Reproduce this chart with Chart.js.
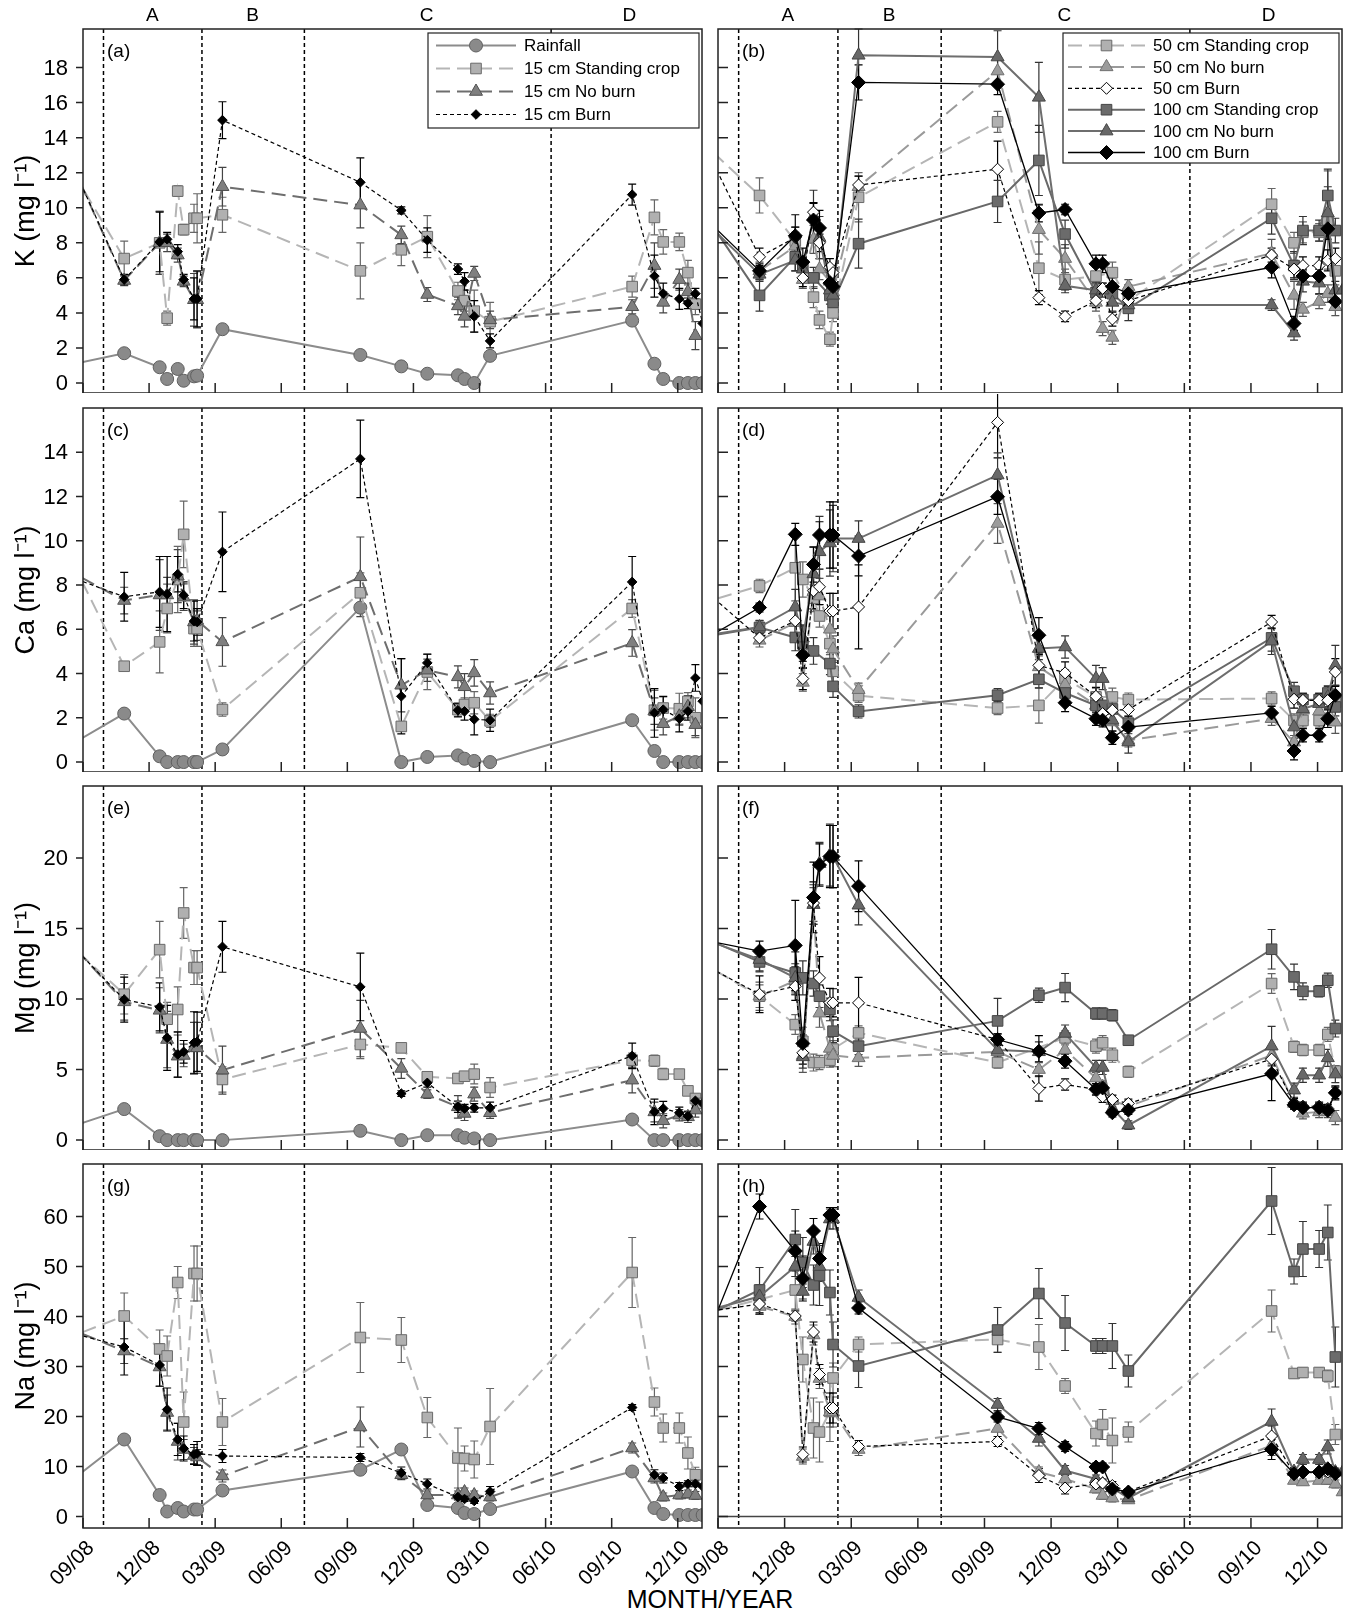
<!DOCTYPE html>
<html>
<head>
<meta charset="utf-8">
<script src="https://cdn.jsdelivr.net/npm/chart.js@4.4.1/dist/chart.umd.min.js"></script>
<style>
  body { margin: 0; background: #fff; width: 1346px; height: 1614px; position: relative; overflow: hidden; }
  .p { position: absolute; }
  #xtitle { position: absolute; left: 0; width: 1420px; top: 1584px; text-align: center; font-size: 25px; line-height: 30px;
            font-family: 'Liberation Sans', Arial, sans-serif; }
</style>
</head>
<body>
<div id="xtitle">MONTH/YEAR</div>
<script>
// sampling dates, months since 09/08 (first value of each series is the sample before 09/08)
const preMonth = -0.9;
const months = [1.87, 3.48, 3.82, 4.3, 4.57, 5.04, 5.18, 6.33, 12.59, 14.45, 15.63, 17.02, 17.32, 17.76, 18.48, 24.93, 25.94, 26.34, 27.07, 27.46, 27.8, 28.13];
const xTickVals = [0, 3, 6, 9, 12, 15, 18, 21, 24, 27];
const xTickLabels = ['09/08', '12/08', '03/09', '06/09', '09/09', '12/09', '03/10', '06/10', '09/10', '12/10'];
const zoneBounds = [0.93, 5.4, 10.05, 21.25];
const zoneNames = ['A', 'B', 'C', 'D'];
const zoneCenters = [3.15, 7.7, 15.6, 24.8];

const kTicks = [0, 2, 4, 6, 8, 10, 12, 14, 16, 18];
const caTicks = [0, 2, 4, 6, 8, 10, 12, 14];
const mgTicks = [0, 5, 10, 15, 20];
const naTicks = [0, 10, 20, 30, 40, 50, 60];

// (a) K, 15 cm
const aRain = [0.96, 1.7, 0.9, 0.23, 0.8, 0.13, 0.38, 0.42, 3.07, 1.6, 0.95, 0.53, 0.44, 0.23, 0.0, 1.55, 3.56, 1.1, 0.23, 0, 0, 0, 0];
const aSC = [13.0, 7.1, 8.0, 3.7, 10.95, 8.75, 9.4, 9.4, 9.6, 6.4, 7.6, 8.35, 5.25, 4.7, 4.1, 3.5, 5.5, 9.45, 8.05, 8.05, 6.3, 4.5, null];
const aSCe = [null, 1.0, 1.8, 0.4, 0.3, 0.3, 0.8, 1.4, 1.0, 1.6, 0.9, 1.2, 0.5, 0.6, 1.2, 1.1, 0.6, 1.0, 0.7, 0.5, 0.7, 0.6, null];
const aNB = [13.6, 5.85, 8.0, 8.0, 7.3, 5.8, 4.75, 4.75, 11.2, 10.15, 8.45, 5.05, 4.4, 3.8, 6.25, 3.6, 4.35, 6.7, 4.6, 5.9, 5.2, 2.7, null];
const aNBe = [null, 0.3, 1.8, 0.5, 0.4, 0.3, 1.5, 1.6, 1.1, 1.3, 0.5, 0.4, 0.5, 0.6, 0.4, 0.5, 0.4, 1.3, 0.6, 0.6, 0.5, 0.8, null];
const aB = [13.6, 5.9, 8.05, 8.2, 7.5, 5.9, 4.8, 4.8, 15.0, 11.45, 9.85, 8.15, 6.5, 5.8, 3.8, 2.4, 10.75, 6.1, 5.1, 4.8, 4.55, 5.1, 3.4];
const aBe = [null, 0.3, 1.7, 0.4, 0.4, 0.3, 1.2, 1.6, 1.05, 1.4, 0.2, 0.7, 0.3, 0.5, 0.9, 0.4, 0.6, 1.2, 0.6, 0.6, 0.3, 0.3, 0.3];

// (b) K, 50 and 100 cm
const bSC50 = [13.96, 10.7, 8.1, null, 4.9, 3.6, 2.5, 4.0, 10.6, 14.9, 6.55, 5.9, 6.1, null, 6.3, 4.7, 10.2, 8.0, 8.6, 8.6, 9.3, 6.4, null];
const bSC50e = [null, 1.0, 0.8, null, 0.6, 0.5, 0.4, 0.5, 1.4, 0.6, 1.5, 0.6, 0.5, null, 0.6, 0.6, 0.9, 0.6, 0.6, 0.5, 2.8, 0.8, null];
const bNB50 = [null, 6.4, 7.8, 5.9, 8.2, 6.5, 5.8, 5.2, 11.2, 17.8, 8.75, 7.1, 4.6, 3.1, 2.6, 5.5, 7.4, 5.0, 4.2, 4.65, 5.1, 4.35, null];
const bNB50e = [null, 0.5, 0.8, 0.5, 0.8, 0.6, 0.5, 0.5, 0.6, 0.8, 1.4, 0.8, 0.5, 0.4, 0.4, 0.4, 0.8, 0.8, 0.4, 0.4, 0.5, 0.5, null];
const bB50 = [14.3, 7.2, 8.3, 6.0, 9.75, 8.0, 6.6, 6.3, 11.3, 12.2, 4.87, 3.8, 4.7, 5.4, 3.65, 4.7, 7.3, 6.5, 6.7, 6.7, 7.0, 7.1, null];
const bB50e = [null, 0.5, 0.6, 0.5, 0.5, 0.5, 0.5, 0.4, 0.5, 1.6, 0.4, 0.3, 0.4, 0.3, 0.4, 0.4, 0.4, 0.5, 0.5, 0.5, 0.6, 0.6, null];
const bSC100 = [10.2, 5.0, 7.2, 6.6, 6.0, null, 5.0, 4.6, 7.95, 10.36, 12.7, 8.5, 5.15, null, 5.1, 4.26, 9.4, 6.7, 8.7, 8.7, 10.7, 8.7, null];
const bSC100e = [null, 0.9, 0.8, 0.6, 0.6, null, 0.5, 0.5, 1.4, 1.2, 2.0, 0.8, 0.6, null, 0.6, 0.7, 0.9, 0.8, 0.8, 0.6, 1.5, 0.7, null];
const bNB100 = [9.6, 6.2, 7.0, 6.5, 9.5, 8.3, 5.3, 5.0, 18.7, 18.6, 16.3, 5.55, 5.3, 5.3, 4.6, 4.45, 4.45, 2.85, 5.8, 5.7, 9.7, 5.3, 5.3];
const bNB100e = [null, 0.4, 0.6, 0.5, 1.5, 1.2, 0.5, 0.5, 1.5, 1.5, 2.0, 0.4, 0.4, 0.4, 0.5, 0.4, 0.3, 0.4, 0.6, 0.6, 1.5, 0.5, null];
const bB100 = [9.8, 6.4, 8.4, 6.9, 9.3, 8.85, 5.7, 5.5, 17.15, 17.05, 9.7, 9.9, 6.8, 6.8, 5.5, 5.1, 6.6, 3.4, 6.1, 6.1, 8.8, 4.65, null];
const bB100e = [null, 0.4, 1.2, 0.8, 1.0, 1.0, 0.4, 0.4, 1.0, 0.6, 0.5, 0.3, 0.5, 0.5, 0.5, 0.5, 0.6, 0.4, 0.4, 0.4, 0.6, 0.5, null];

// (c) Ca, 15 cm
const cRain = [0.58, 2.19, 0.26, 0, 0, 0, 0, 0, 0.57, 6.98, 0, 0.23, 0.3, 0.15, 0.05, 0, 1.89, 0.5, 0, 0, 0, 0, 0];
const cSC = [9.87, 4.33, 5.43, 6.94, 8.25, 10.29, 6.03, 6.03, 2.37, 7.65, 1.61, 4.07, 2.37, 2.6, 2.68, 1.86, 6.94, 2.34, 2.44, 2.41, 2.74, 2.0, null];
const cSCe = [null, 0.15, 1.4, 1.1, 1.5, 1.5, 0.8, 0.8, 0.3, 0.9, 0.2, 0.8, 0.3, 0.3, 0.5, 0.3, 0.4, 0.9, 0.5, 0.7, 0.4, 0.9, null];
const cNB = [8.78, 7.3, 7.55, 7.55, 8.4, 7.45, 6.33, 6.4, 5.43, 8.37, 3.47, 4.15, 3.85, 3.4, 4.03, 3.12, 5.38, 2.3, 1.73, 2.07, 2.5, 1.69, null];
const cNBe = [null, 0.6, 1.6, 0.8, 1.2, 0.6, 1.0, 0.9, 1.1, 1.8, 1.2, 0.5, 0.5, 0.6, 0.6, 0.5, 0.6, 0.6, 0.5, 0.4, 0.5, 0.5, null];
const cB = [8.48, 7.47, 7.69, 7.59, 8.49, 7.54, 6.37, 6.33, 9.5, 13.7, 2.97, 4.48, 2.34, 2.29, 1.93, 1.89, 8.14, 2.22, 2.37, 1.96, 2.29, 3.8, 2.75];
const cBe = [null, 1.1, 1.6, 1.7, 0.8, 0.6, 0.9, 0.6, 1.8, 1.75, 1.7, 0.4, 0.3, 0.4, 0.7, 0.5, 1.15, 1.1, 0.6, 0.6, 0.4, 0.6, 0.4];

// (d) Ca, 50 and 100 cm
const dSC50 = [7.13, 7.96, 8.78, 8.25, 7.4, 6.6, 5.35, 4.1, 3.0, 2.44, 2.56, 3.77, 2.94, null, 2.94, 2.82, 2.87, 1.88, 1.88, 1.88, null, 2.7, null];
const dSC50e = [null, 0.3, 1.5, 0.8, 0.6, 0.5, 0.5, 0.5, 0.3, 0.3, 0.8, 0.4, 0.4, null, 0.4, 0.3, 0.3, 0.3, 0.3, 0.3, null, 0.4, null];
const dNB50 = [null, 5.5, 6.3, 3.6, 7.7, 7.5, 6.0, 5.1, 3.27, 10.78, 4.3, 3.5, 2.56, null, 1.81, 0.98, 1.96, 0.9, 2.34, 2.3, 2.8, 1.8, null];
const dNB50e = [null, 0.3, 0.6, 0.4, 0.8, 0.8, 0.6, 0.6, 0.3, 0.9, 0.5, 0.4, 0.4, null, 0.4, 0.3, 0.3, 0.3, 0.4, 0.4, 0.4, 0.5, null];
const dB50 = [8.02, 5.61, 6.38, 3.77, 7.74, 7.92, 6.82, 6.82, 7.01, 15.35, 4.37, 4.03, 2.97, 2.19, 2.34, 2.37, 6.33, 2.84, 2.79, 2.79, 2.79, 4.07, null];
const dB50e = [null, 0.2, 0.6, 0.5, 0.8, 0.8, 0.8, 0.8, 1.9, 1.6, 0.5, 0.5, 0.4, 0.4, 0.6, 0.6, 0.3, 0.4, 0.3, 0.3, 0.3, 0.6, null];
const dSC100 = [5.61, 6.08, 5.63, 5.35, 5.02, null, 4.45, 3.42, 2.29, 3.02, 3.74, 3.12, 2.56, 2.56, 2.4, 1.76, 5.61, 3.2, 2.82, 2.82, 3.12, 2.49, null];
const dSC100e = [null, 0.3, 0.6, 0.8, 0.6, null, 0.5, 0.5, 0.3, 0.3, 0.4, 0.4, 0.4, 0.4, 0.5, 0.3, 0.6, 0.4, 0.3, 0.3, 0.3, 0.4, null];
const dNB100 = [5.66, 6.1, 7.0, 5.6, 8.5, 9.5, 9.9, 10.1, 10.1, 12.97, 5.13, 5.2, 3.77, 3.77, 1.89, 0.9, 5.46, 1.58, 2.4, 2.64, 2.94, 4.37, null];
const dNB100e = [null, 0.3, 0.8, 0.6, 1.2, 1.6, 1.5, 1.5, 0.8, 1.0, 0.5, 0.5, 0.6, 0.5, 0.6, 0.5, 0.6, 0.5, 0.4, 0.4, 0.5, 0.9, null];
const dB100 = [5.38, 6.98, 10.29, 4.83, 8.93, 10.26, 10.26, 10.26, 9.31, 11.99, 5.73, 2.68, 1.96, 1.89, 1.1, 1.58, 2.22, 0.5, 1.21, 1.21, 1.96, 3.02, null];
const dB100e = [null, 0.2, 0.5, 0.6, 0.8, 0.6, 1.5, 1.5, 0.9, 0.8, 0.8, 0.4, 0.3, 0.3, 0.3, 0.5, 0.3, 0.4, 0.3, 0.3, 0.4, 0.4, null];

// (e) Mg, 15 cm
const eRain = [0.76, 2.2, 0.28, 0, 0, 0, 0, 0, 0, 0.66, 0, 0.35, 0.35, 0.17, 0.12, 0, 1.46, 0, 0, 0, 0, 0, 0];
const eSC = [14.28, 10.34, 13.5, 8.57, 9.26, 16.1, 12.23, 12.23, 4.3, 6.78, 6.54, 4.49, 4.37, 4.53, 4.68, 3.73, 5.67, 5.62, 4.68, 4.68, 3.49, 2.95, 2.6];
const eSCe = [null, 1.4, 2.0, 1.2, 1.6, 1.8, 1.2, 1.2, 0.9, 1.0, 0.3, 0.3, 0.3, 0.3, 0.7, 0.7, 0.5, 0.4, 0.4, 0.3, 0.3, 0.3, 0.3];
const eNB = [14.54, 9.8, 9.2, 7.13, 5.95, 6.0, 6.54, 6.54, 4.96, 7.91, 5.08, 3.26, 2.36, 1.89, 3.26, 1.94, 4.25, 2.0, 1.37, 1.77, 1.65, 2.13, null];
const eNBe = [null, 1.3, 1.6, 2.0, 1.5, 0.8, 1.8, 1.8, 1.7, 2.0, 0.7, 0.3, 0.8, 0.5, 0.5, 0.4, 0.9, 0.7, 0.5, 0.4, 0.4, 0.5, null];
const eB = [14.46, 9.96, 9.44, 7.25, 6.07, 6.26, 6.9, 6.97, 13.7, 10.86, 3.3, 4.06, 2.36, 2.24, 2.29, 2.29, 5.97, 2.0, 2.24, 1.94, 1.7, 2.79, 2.6];
const eBe = [null, 1.6, 1.7, 2.3, 1.6, 0.8, 2.2, 2.1, 1.8, 2.4, 0.2, 0.3, 0.4, 0.3, 0.3, 0.4, 0.9, 0.9, 0.5, 0.4, 0.3, 0.3, 0.2];

// (f) Mg, 50 and 100 cm
const fSC50 = [12.72, 10.2, 8.19, 7.0, 5.5, 5.5, 5.67, 6.45, 7.6, 5.5, null, 7.25, 6.66, 6.9, 6.02, 4.84, 11.1, 6.61, 6.38, 6.38, 7.49, 4.89, null];
const fSC50e = [null, 0.8, 0.7, 1.0, 0.6, 0.5, 0.5, 0.6, 0.5, 0.4, null, 0.5, 0.5, 0.5, 0.5, 0.4, 0.7, 0.4, 0.4, 0.4, 0.5, 0.4, null];
const fNB50 = [null, 10.2, 11.3, 6.0, 16.7, 9.0, 6.5, 6.0, 5.83, 6.26, 5.0, 6.4, 4.4, 3.8, 2.8, 2.4, 6.0, 2.6, 1.9, 2.0, 2.0, 1.6, null];
const fNB50e = [null, 1.0, 1.0, 1.2, 1.2, 1.0, 0.8, 0.8, 0.6, 0.5, 0.5, 0.5, 0.4, 0.4, 0.4, 0.4, 0.6, 0.4, 0.4, 0.4, 0.4, 0.5, null];
const fB50 = [12.65, 10.34, 10.9, 6.19, 16.8, 11.5, 9.75, 9.73, 9.73, 7.13, 3.66, 3.94, 3.6, 3.07, 2.88, 2.6, 5.74, 2.64, 2.4, 2.4, 2.24, 3.35, null];
const fB50e = [null, 1.3, 1.0, 0.8, 1.5, 1.5, 1.0, 1.0, 1.8, 0.4, 0.9, 0.4, 0.4, 0.4, 0.3, 0.3, 0.8, 0.3, 0.3, 0.3, 0.3, 0.5, null];
const fSC100 = [14.51, 12.63, 11.85, 11.5, 11.1, 10.2, 9.26, 7.72, 6.66, 8.45, 10.27, 10.81, 8.97, 8.97, 8.85, 7.08, 13.53, 11.57, 10.55, 10.55, 11.33, 7.91, null];
const fSC100e = [null, 0.7, 1.5, 1.2, 0.9, 0.8, 0.8, 0.8, 0.6, 1.6, 0.5, 1.0, 0.4, 0.4, 0.4, 0.3, 1.4, 0.9, 0.6, 0.4, 0.5, 0.6, null];
const fNB100 = [14.4, 12.8, 11.5, 5.9, 16.7, 19.6, 20.2, 20.1, 16.65, 6.38, 6.26, 7.56, 5.15, 5.15, 2.24, 1.06, 6.66, 3.54, 4.6, 4.6, 5.83, 4.68, null];
const fNB100e = [null, 0.8, 1.0, 0.8, 1.4, 1.5, 2.2, 2.2, 1.4, 0.5, 0.7, 0.6, 0.5, 0.5, 0.3, 0.3, 1.4, 0.5, 0.5, 0.5, 0.6, 0.6, null];
const fB100 = [14.26, 13.4, 13.8, 6.85, 17.2, 19.5, 20.1, 20.1, 18.0, 7.13, 6.3, 5.6, 3.6, 3.7, 1.94, 2.13, 4.7, 2.5, 2.3, 2.3, 2.1, 3.35, null];
const fB100e = [null, 0.7, 3.2, 0.6, 2.5, 1.5, 2.2, 2.2, 1.8, 0.4, 1.1, 0.5, 0.4, 0.4, 0.3, 0.3, 1.9, 0.3, 0.3, 0.3, 0.3, 0.4, null];

// (g) Na, 15 cm
const gRain = [5.92, 15.4, 4.3, 1.0, 1.7, 1.0, 1.4, 1.4, 5.2, 9.35, 13.4, 2.3, 1.7, 0.7, 0.5, 1.5, 9.0, 1.7, 0.5, 0.3, 0.3, 0.3, 0.3];
const gSC = [35.36, 40.1, 33.5, 32.1, 46.8, 18.9, 48.6, 48.6, 18.9, 35.8, 35.3, 19.8, 11.7, 11.6, 11.4, 18.0, 48.8, 22.9, 17.7, 17.7, 12.7, 8.35, null];
const gSCe = [null, 4.6, 3.8, 4.0, 3.2, 6.0, 5.5, 5.5, 4.7, 7.0, 4.5, 4.0, 6.0, 2.5, 3.7, 7.6, 7.0, 2.8, 2.8, 3.0, 3.2, 1.5, null];
const gNB = [38.1, 33.1, 29.9, 20.8, 15.0, 13.4, 12.2, 11.9, 8.1, 17.9, 8.35, 4.3, 4.3, 4.9, 4.3, 3.9, 13.7, 7.7, 3.9, 4.3, 4.5, 4.2, null];
const gNBe = [null, 2.5, 3.9, 3.5, 3.7, 2.0, 1.6, 1.5, 1.2, 4.0, 1.0, 0.8, 0.8, 0.8, 0.8, 0.8, 1.0, 1.0, 0.8, 0.8, 0.8, 0.8, null];
const gB = [37.16, 33.9, 30.3, 21.4, 15.4, 13.6, 12.4, 12.6, 12.1, 11.8, 8.7, 6.5, 3.9, 3.5, 3.1, 5.0, 21.8, 8.35, 7.7, 6.0, 6.55, 6.55, 6.0];
const gBe = [null, 5.6, 4.2, 4.3, 3.2, 2.5, 2.0, 2.4, 1.3, 0.8, 1.2, 1.0, 0.6, 0.5, 0.5, 1.0, 0.6, 1.0, 1.0, 0.8, 0.6, 0.6, 0.5];

// (h) Na, 50 and 100 cm
const hSC50 = [40.29, 43.4, 45.3, 31.4, 17.7, 16.9, 21.0, 27.7, 34.4, 35.4, 33.9, 26.1, 16.6, 18.4, 15.2, 16.9, 41.1, 28.6, 28.8, 28.8, 28.1, 16.4, null];
const hSC50e = [null, 3.0, 4.0, 4.5, 6.0, 6.0, 6.0, 3.0, 1.5, 2.5, 4.5, 1.5, 2.5, 3.0, 4.5, 2.0, 4.2, 1.0, 1.0, 1.0, 1.2, 2.0, null];
const hNB50 = [null, 42.0, 40.0, 12.0, 36.3, 27.6, 20.9, 20.9, 13.4, 17.6, 8.9, 7.5, 5.5, 4.2, 3.7, 3.3, 14.2, 7.2, 6.9, 7.2, 7.2, 6.5, 4.9];
const hNB50e = [null, 1.5, 1.5, 1.5, 2.0, 2.0, 3.0, 3.0, 1.2, 2.0, 1.0, 1.0, 0.8, 0.8, 0.8, 0.6, 2.0, 0.6, 0.6, 0.6, 0.8, 0.8, 0.8];
const hB50 = [40.72, 42.5, 40.1, 12.4, 36.9, 28.4, 21.7, 21.7, 14.0, 15.0, 8.2, 5.7, 6.5, 6.7, 6.2, 5.0, 16.1, 8.55, 8.9, 8.7, 8.9, 8.9, null];
const hB50e = [null, 2.0, 1.0, 1.5, 2.0, 2.0, 3.0, 3.0, 1.2, 1.0, 1.4, 1.2, 0.8, 0.8, 0.8, 0.6, 2.0, 0.6, 0.6, 0.6, 0.6, 0.6, null];
const hSC100 = [39.38, 45.3, 55.4, 50.8, 46.3, 48.2, 44.8, 34.4, 30.1, 37.3, 44.6, 38.7, 34.1, 34.1, 34.1, 29.1, 63.1, 49.0, 53.5, 53.5, 56.8, 31.9, null];
const hSC100e = [null, 4.5, 6.0, 5.0, 4.0, 6.0, 4.5, 4.5, 4.3, 4.5, 5.0, 5.5, 1.5, 1.5, 4.5, 3.2, 6.7, 2.5, 5.5, 3.7, 5.5, 6.0, null];
const hNB100 = [40.7, 44.0, 50.0, 45.0, 55.0, 50.0, 59.5, 59.5, 43.8, 22.4, 15.6, 9.2, 7.5, 6.5, 5.7, 3.7, 19.0, 9.0, 11.4, 11.4, 13.9, 8.9, 8.9];
const hNB100e = [null, 1.5, 2.0, 1.5, 2.5, 3.0, 2.0, 2.0, 1.5, 1.2, 1.5, 1.0, 0.8, 0.8, 0.8, 0.6, 2.5, 0.8, 1.0, 1.0, 1.4, 0.8, 0.8];
const hB100 = [31.34, 62.0, 53.1, 47.6, 57.1, 51.6, 60.3, 60.3, 41.7, 19.9, 17.6, 14.0, 9.9, 9.9, 5.5, 4.9, 13.4, 8.55, 8.9, 8.9, 9.55, 8.55, null];
const hB100e = [null, 2.5, 4.0, 4.5, 2.5, 3.0, 1.5, 1.5, 1.2, 1.0, 1.2, 1.0, 0.8, 0.8, 0.8, 0.6, 2.0, 0.6, 0.6, 0.6, 0.8, 0.6, null];

const FONT = "'Liberation Sans', Arial, sans-serif";
Chart.defaults.font.family = FONT;
Chart.defaults.color = '#000';

// series looks
const STY = {
  rain:  {label: 'Rainfall', color: '#8c8c8c', fill: '#8a8a8a', edge: '#606060', dash: [], w: 2, shape: 'circle', r: 6.5, err: '#555', order: 9},
  sc15:  {label: '15 cm Standing crop', color: '#b5b5b5', fill: '#b0b0b0', edge: '#6a6a6a', dash: [14, 7], w: 2, shape: 'rect', r: 7.5, err: '#666', order: 8},
  nb15:  {label: '15 cm No burn', color: '#6e6e6e', fill: '#7f7f7f', edge: '#505050', dash: [14, 7], w: 2, shape: 'triangle', r: 7.5, err: '#444', order: 7},
  b15:   {label: '15 cm Burn', color: '#000', fill: '#000', edge: '#000', dash: [4, 3], w: 1.2, shape: 'rectRot', r: 4.8, err: '#000', order: 6},
  sc50:  {label: '50 cm Standing crop', color: '#b5b5b5', fill: '#b0b0b0', edge: '#6a6a6a', dash: [14, 7], w: 2, shape: 'rect', r: 7.5, err: '#666', order: 8},
  nb50:  {label: '50 cm No burn', color: '#9a9a9a', fill: '#9c9c9c', edge: '#707070', dash: [14, 7], w: 2, shape: 'triangle', r: 7.5, err: '#555', order: 7},
  b50:   {label: '50 cm Burn', color: '#000', fill: '#fff', edge: '#000', dash: [4, 3], w: 1.2, shape: 'rectRot', r: 6, err: '#000', order: 2},
  sc100: {label: '100 cm Standing crop', color: '#686868', fill: '#6b6b6b', edge: '#454545', dash: [], w: 2, shape: 'rect', r: 7.5, err: '#333', order: 5},
  nb100: {label: '100 cm No burn', color: '#6e6e6e', fill: '#686868', edge: '#454545', dash: [], w: 2, shape: 'triangle', r: 7.5, err: '#333', order: 4},
  b100:  {label: '100 cm Burn', color: '#000', fill: '#000', edge: '#000', dash: [], w: 1.3, shape: 'rectRot', r: 7, err: '#000', order: 1}
};

const panels = [
  {id: 'a', row: 0, col: 0, yMin: -0.57, yMax: 20.2, yTicks: kTicks, title: 'K (mg l\u207B\u00B9)', legend: ['rain', 'sc15', 'nb15', 'b15'],
   series: [['rain', aRain, null], ['sc15', aSC, aSCe], ['nb15', aNB, aNBe], ['b15', aB, aBe]]},
  {id: 'b', row: 0, col: 1, yMin: -0.57, yMax: 20.2, yTicks: kTicks, legend: ['sc50', 'nb50', 'b50', 'sc100', 'nb100', 'b100'],
   series: [['sc50', bSC50, bSC50e], ['nb50', bNB50, bNB50e], ['b50', bB50, bB50e], ['sc100', bSC100, bSC100e], ['nb100', bNB100, bNB100e], ['b100', bB100, bB100e]]},
  {id: 'c', row: 1, col: 0, yMin: -0.45, yMax: 16, yTicks: caTicks, title: 'Ca (mg l\u207B\u00B9)',
   series: [['rain', cRain, null], ['sc15', cSC, cSCe], ['nb15', cNB, cNBe], ['b15', cB, cBe]]},
  {id: 'd', row: 1, col: 1, yMin: -0.45, yMax: 16, yTicks: caTicks,
   series: [['sc50', dSC50, dSC50e], ['nb50', dNB50, dNB50e], ['b50', dB50, dB50e], ['sc100', dSC100, dSC100e], ['nb100', dNB100, dNB100e], ['b100', dB100, dB100e]]},
  {id: 'e', row: 2, col: 0, yMin: -0.7, yMax: 25.1, yTicks: mgTicks, title: 'Mg (mg l\u207B\u00B9)',
   series: [['rain', eRain, null], ['sc15', eSC, eSCe], ['nb15', eNB, eNBe], ['b15', eB, eBe]]},
  {id: 'f', row: 2, col: 1, yMin: -0.7, yMax: 25.1, yTicks: mgTicks,
   series: [['sc50', fSC50, fSC50e], ['nb50', fNB50, fNB50e], ['b50', fB50, fB50e], ['sc100', fSC100, fSC100e], ['nb100', fNB100, fNB100e], ['b100', fB100, fB100e]]},
  {id: 'g', row: 3, col: 0, yMin: -2.3, yMax: 70.5, yTicks: naTicks, title: 'Na (mg l\u207B\u00B9)',
   series: [['rain', gRain, null], ['sc15', gSC, gSCe], ['nb15', gNB, gNBe], ['b15', gB, gBe]]},
  {id: 'h', row: 3, col: 1, yMin: -2.3, yMax: 70.5, yTicks: naTicks, zero: true,
   series: [['sc50', hSC50, hSC50e], ['nb50', hNB50, hNB50e], ['b50', hB50, hB50e], ['sc100', hSC100, hSC100e], ['nb100', hNB100, hNB100e], ['b100', hB100, hB100e]]}
];

const rowTop = [29, 408, 786, 1164];
const plotH = 364;

function legendSample(ctx, s, x0, x1, y) {
  ctx.save();
  ctx.strokeStyle = s.color; ctx.lineWidth = s.w; ctx.setLineDash(s.dash);
  ctx.beginPath(); ctx.moveTo(x0, y); ctx.lineTo(x1, y); ctx.stroke();
  ctx.setLineDash([]);
  ctx.fillStyle = s.fill; ctx.strokeStyle = s.edge; ctx.lineWidth = 1;
  Chart.helpers.drawPoint(ctx, {pointStyle: s.shape, radius: s.r, rotation: 0, borderWidth: 1}, (x0 + x1) / 2, y);
  ctx.restore();
}

const decor = {
  id: 'decor',
  beforeDatasetsDraw(chart, args, o) {
    const {ctx, chartArea: a, scales: {x, y}} = chart;
    ctx.save();
    ctx.strokeStyle = '#000'; ctx.lineWidth = 1.5; ctx.setLineDash([4, 3]);
    zoneBounds.forEach(m => {
      const px = x.getPixelForValue(m);
      ctx.beginPath(); ctx.moveTo(px, a.top); ctx.lineTo(px, a.bottom); ctx.stroke();
    });
    ctx.setLineDash([]);
    if (o.zero) {
      const py = y.getPixelForValue(0);
      ctx.strokeStyle = '#444'; ctx.lineWidth = 1.5;
      ctx.beginPath(); ctx.moveTo(a.left, py); ctx.lineTo(a.right, py); ctx.stroke();
    }
    // error bars
    chart.data.datasets.forEach(ds => {
      if (!ds.hasErr) return;
      ctx.strokeStyle = ds.errColor; ctx.lineWidth = 1.2;
      ds.data.forEach(p => {
        if (p.e == null || p.x > x.max) return;
        const px = x.getPixelForValue(p.x);
        const y1 = y.getPixelForValue(p.y - p.e), y2 = y.getPixelForValue(p.y + p.e);
        ctx.beginPath();
        ctx.moveTo(px, y1); ctx.lineTo(px, y2);
        ctx.moveTo(px - 4, y1); ctx.lineTo(px + 4, y1);
        ctx.moveTo(px - 4, y2); ctx.lineTo(px + 4, y2);
        ctx.stroke();
      });
    });
    ctx.restore();
  },
  afterDraw(chart, args, o) {
    const {ctx, chartArea: a, scales: {x, y}} = chart;
    ctx.save();
    ctx.strokeStyle = '#222'; ctx.lineWidth = 1.5;
    ctx.strokeRect(a.left, a.top, a.right - a.left, a.bottom - a.top);
    ctx.beginPath();
    xTickVals.forEach(v => {
      const px = x.getPixelForValue(v);
      ctx.moveTo(px, a.bottom); ctx.lineTo(px, a.bottom - 10);
    });
    o.yTicks.forEach(v => {
      const py = y.getPixelForValue(v);
      if (o.left) { ctx.moveTo(a.left - 7, py); ctx.lineTo(a.left, py); }
      else { ctx.moveTo(a.left, py); ctx.lineTo(a.left + 10, py); }
    });
    ctx.stroke();

    ctx.fillStyle = '#000';
    // y tick labels and axis title
    if (o.left) {
      ctx.font = '22px ' + FONT;
      ctx.textAlign = 'right'; ctx.textBaseline = 'middle';
      o.yTicks.forEach(v => ctx.fillText(String(v), a.left - 15, y.getPixelForValue(v) + 1));
      ctx.save();
      ctx.translate(27, (a.top + a.bottom) / 2);
      ctx.rotate(-Math.PI / 2);
      ctx.font = '27px ' + FONT; ctx.textAlign = 'center';
      ctx.fillText(o.title, 0, 0);
      ctx.restore();
    }
    // x tick labels, bottom row only
    if (o.bottom) {
      ctx.font = '21px ' + FONT;
      ctx.textAlign = 'right'; ctx.textBaseline = 'middle';
      xTickVals.forEach((v, i) => {
        ctx.save();
        ctx.translate(x.getPixelForValue(v) + 8, a.bottom + 17);
        ctx.rotate(-Math.PI / 4);
        ctx.fillText(xTickLabels[i], 0, 0);
        ctx.restore();
      });
    }

    ctx.font = '19px ' + FONT;
    ctx.textBaseline = 'middle'; ctx.textAlign = 'left';
    ctx.fillText('(' + o.tag + ')', a.left + 24, a.top + 23);

    if (o.top) {
      ctx.textAlign = 'center';
      zoneNames.forEach((n, i) => ctx.fillText(n, x.getPixelForValue(zoneCenters[i]), a.top - 13));
    }

    if (o.legend) {
      const six = o.legend.length > 4;
      const bw = six ? 276 : 271, bh = six ? 130 : 95;
      const bx = a.right - bw - 3, by = a.top + 4;
      const step = six ? 21.4 : 23;
      ctx.fillStyle = '#fff'; ctx.fillRect(bx, by, bw, bh);
      ctx.strokeStyle = '#222'; ctx.lineWidth = 1.2; ctx.strokeRect(bx, by, bw, bh);
      ctx.font = '17px ' + FONT; ctx.textAlign = 'left';
      o.legend.forEach((k, i) => {
        const s = STY[k];
        const ry = by + 12.5 + i * step;
        legendSample(ctx, s, bx + (six ? 5 : 8), bx + (six ? 82 : 88), ry);
        ctx.fillStyle = '#000';
        ctx.fillText(s.label, bx + (six ? 90 : 96), ry + 1);
      });
    }
    ctx.restore();
  }
};

panels.forEach(p => {
  const left = p.col === 0, bottom = p.row === 3;
  const padTop = p.row === 0 ? 29 : 14;
  const cx = left ? 0 : 660, cw = left ? 706 : 686;
  const yW = left ? 83 : 58;
  const ch = padTop + plotH + (bottom ? 86 : 0);

  const div = document.createElement('div');
  div.className = 'p';
  div.style.left = cx + 'px';
  div.style.top = (rowTop[p.row] - padTop) + 'px';
  const cv = document.createElement('canvas');
  cv.width = cw; cv.height = ch;
  cv.style.width = cw + 'px'; cv.style.height = ch + 'px';
  div.appendChild(cv);
  document.body.appendChild(div);

  const datasets = p.series.map(([key, vals, errs]) => {
    const s = STY[key];
    const data = [];
    vals.forEach((v, i) => {
      if (v == null) return;
      data.push({x: i === 0 ? preMonth : months[i - 1], y: v, e: errs ? errs[i] : null});
    });
    return {
      label: s.label, data,
      borderColor: s.color, borderWidth: s.w, borderDash: s.dash,
      pointStyle: s.shape, pointRadius: s.r,
      pointBackgroundColor: s.fill, pointBorderColor: s.edge, pointBorderWidth: 1,
      tension: 0, order: s.order, hasErr: !!errs, errColor: s.err
    };
  });

  new Chart(cv, {
    type: 'line',
    data: {datasets},
    options: {
      responsive: false,
      animation: false,
      layout: {autoPadding: false, padding: {top: padTop, right: 4, left: 0, bottom: 0}},
      plugins: {
        legend: {display: false},
        tooltip: {enabled: false},
        decor: {tag: p.id, left, bottom, top: p.row === 0, yTicks: p.yTicks, title: p.title || '', legend: p.legend || null, zero: !!p.zero}
      },
      scales: {
        x: {
          type: 'linear', min: 0, max: 28.1,
          grid: {display: false}, border: {display: false},
          afterBuildTicks: s => { s.ticks = xTickVals.map(v => ({value: v})); },
          ticks: {display: false},
          afterFit: s => { s.height = bottom ? 86 : 0; s.paddingLeft = 0; s.paddingRight = 0; }
        },
        y: {
          type: 'linear', min: p.yMin, max: p.yMax,
          grid: {display: false}, border: {display: false},
          afterBuildTicks: s => { s.ticks = p.yTicks.map(v => ({value: v})); },
          ticks: {display: false},
          afterFit: s => { s.width = yW; s.paddingTop = 0; s.paddingBottom = 0; }
        }
      }
    },
    plugins: [decor]
  });
});
</script>
</body>
</html>
